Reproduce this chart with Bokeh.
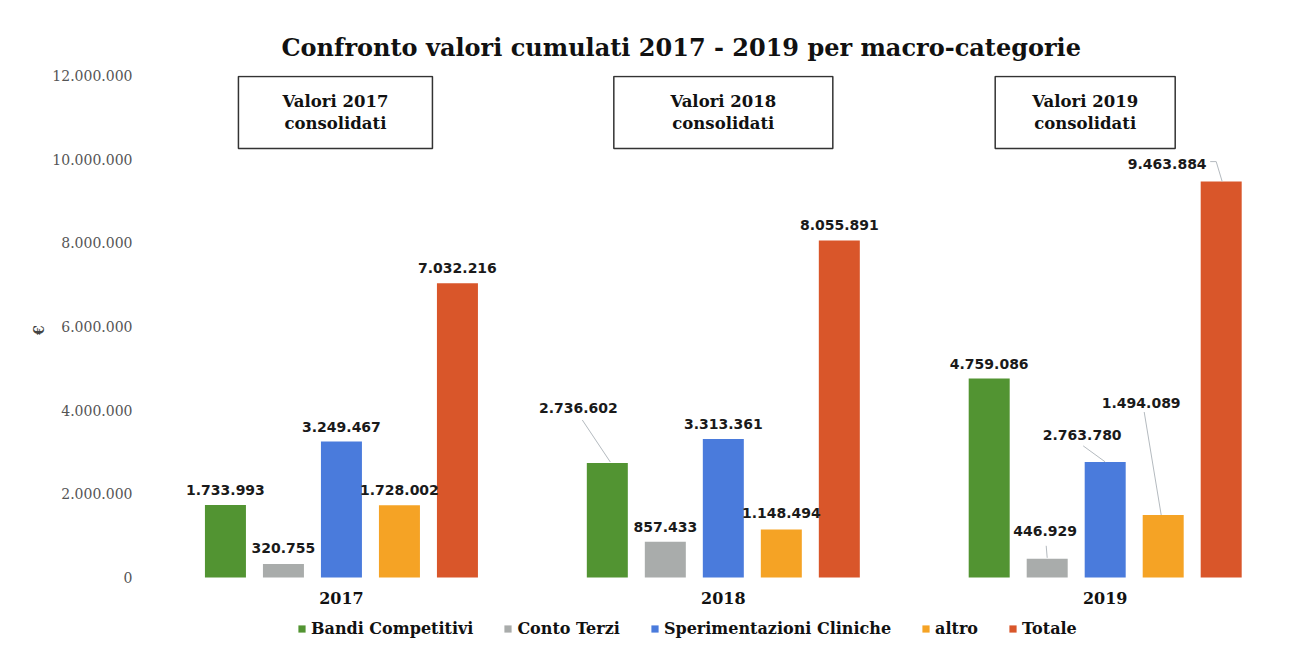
from bokeh.plotting import figure
from bokeh.models import Range1d, FixedTicker, Legend, LegendItem, ColumnDataSource
from bokeh.core.properties import value
from bokeh.embed import file_html
from bokeh.resources import INLINE

years = ["2017", "2018", "2019"]
series = ["Bandi Competitivi", "Conto Terzi", "Sperimentazioni Cliniche", "altro", "Totale"]
bandi = [1733993, 2736602, 4759086]
conto = [320755, 857433, 446929]
sperim = [3249467, 3313361, 2763780]
altro = [1728002, 1148494, 1494089]
totale = [7032216, 8055891, 9463884]
colors = ["#529432", "#a9acab", "#4a7bdc", "#f5a325", "#d9562a"]
y_ticks = [0, 2000000, 4000000, 6000000, 8000000, 10000000, 12000000]
y_max = 12000000

values = [bandi, conto, sperim, altro, totale]

W, H = 1288, 638
FL, FR, FT = 150, 0, 75
DATA_H = 502                      # pixel height of the 0..12M band
X_END = 2.98
frame_w = W - FL - FR
frame_h = H - FT
PXX = X_END / frame_w
PXY = y_max / DATA_H
y_start = -(frame_h - DATA_H) * PXY

p = figure(width=W, height=H, output_backend="svg", toolbar_location=None,
           x_range=Range1d(0, X_END), y_range=Range1d(y_start, y_max),
           min_border_left=FL, min_border_right=FR, min_border_top=FT, min_border_bottom=0,
           title="Confronto valori cumulati 2017 - 2019 per macro-categorie")
p.outline_line_color = None
p.xgrid.visible = False
p.ygrid.visible = False
p.xaxis.visible = False
p.title.text_font = "DejaVu Serif"
p.title.text_font_style = "bold"
p.title.text_font_size = "24px"
p.title.align = "left"
p.title.offset = 131
p.title.standoff = 27
p.title.text_color = "#111111"

# y axis
p.yaxis.ticker = FixedTicker(ticks=y_ticks)
p.yaxis.major_label_overrides = {t: f"{t:,}".replace(",", ".") for t in y_ticks}
p.yaxis.major_label_text_font = "DejaVu Serif"
p.yaxis.major_label_text_font_size = "14px"
p.yaxis.major_label_text_color = "#555555"
p.yaxis.axis_line_color = None
p.yaxis.major_tick_line_color = None
p.yaxis.minor_tick_line_color = None
p.yaxis.major_label_standoff = 12
p.yaxis.axis_label = "\u00a0" * 11 + "€"
p.yaxis.axis_label_text_font = "DejaVu Serif"
p.yaxis.axis_label_text_font_style = "bold"
p.yaxis.axis_label_text_font_size = "14px"
p.yaxis.axis_label_standoff = 2

centers = [i + 0.5 for i in range(len(years))]
# category labels under the groups
p.text(x=centers, y=[-20 * PXY] * 3, text=years, text_align="center", text_baseline="middle",
       text_font=value("DejaVu Serif"), text_font_style="bold", text_font_size="16px",
       text_color="#111111")

step = 58 * PXX
bw = 41 * PXX

# label adjustments in pixels: (series, year) -> (dx, extra dy)
label_adj = {(1, 0): (0, 1), (0, 1): (-29, 40), (3, 1): (0, 1), (0, 2): (0, -1),
             (1, 2): (-2, 13), (2, 2): (-23, 12), (3, 2): (-22, 97), (4, 2): (-54, 3)}
# leader lines in pixels relative to bar top centre
leaders = {(0, 1): [(-25, 43), (3, 1)],
           (1, 2): [(-1, 13), (0, 1)],
           (2, 2): [(-22, 16), (0, 0)],
           (3, 2): [(-19, 103), (-2, 0)],
           (4, 2): [(-11, 20), (-5, 20), (1, 0)]}

items = []
lx, ly, lt = [], [], []
mxs, mys = [], []
for k, (name, vals, col) in enumerate(zip(series, values, colors)):
    xs = [c + (k - 2) * step for c in centers]
    src = ColumnDataSource(dict(x=xs, top=vals))
    r = p.vbar(x="x", top="top", bottom=0, width=bw, source=src, fill_color=col, line_color=None)
    items.append(LegendItem(label=name, renderers=[r]))
    for j, (x, v) in enumerate(zip(xs, vals)):
        dx, dy = label_adj.get((k, j), (0, 0))
        lx.append(x + dx * PXX)
        ly.append(v + (15 + dy) * PXY)
        lt.append(f"{v:,}".replace(",", "."))
        if (k, j) in leaders:
            pts = leaders[(k, j)]
            mxs.append([x + a * PXX for a, b in pts])
            mys.append([v + b * PXY for a, b in pts])

p.multi_line(xs=mxs, ys=mys, line_color="#b4babf", line_width=1)
p.text(x=lx, y=ly, text=lt, text_align="center", text_baseline="middle",
       text_font=value("DejaVu Sans"), text_font_style="bold", text_font_size="14px",
       text_color="#1a1a1a")

# boxes
box_dx = [-6, 0, -20]
box_w = [194, 219, 180]
box_x = [c + d * PXX for c, d in zip(centers, box_dx)]
box_y = [465 * PXY] * 3
p.rect(x=box_x, y=box_y, width=box_w, height=[72] * 3, width_units="screen", height_units="screen",
       fill_color="white", line_color="#333333", line_width=1.5)
p.text(x=box_x, y=box_y, text=[f"Valori {y}\nconsolidati" for y in years],
       text_align="center", text_baseline="middle", text_font=value("DejaVu Serif"),
       text_font_style="bold", text_font_size="16.5px", text_line_height=1.18, text_color="#111111")

legend = Legend(items=items, orientation="horizontal", location=(147, 0),
                label_text_font="DejaVu Serif", label_text_font_style="bold",
                label_text_font_size="16px", label_text_color="#111111",
                glyph_width=9, glyph_height=9, label_standoff=5, spacing=30,
                border_line_color=None, background_fill_alpha=0, padding=0, margin=0)
p.add_layout(legend, "center")

open("out.html", "w").write(file_html(p, INLINE))
